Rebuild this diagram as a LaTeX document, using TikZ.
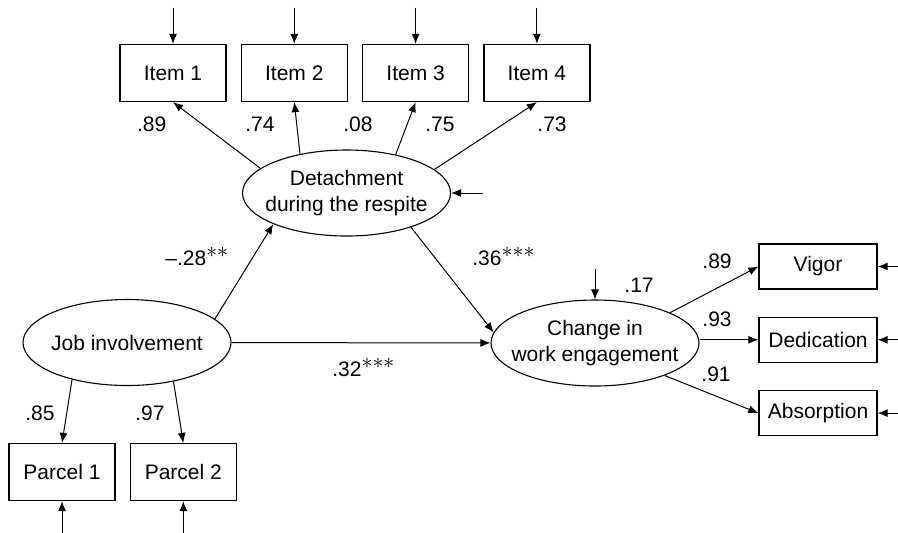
\documentclass[tikz,border=0pt]{standalone}
\usepackage{fontspec}
\setmainfont{Liberation Sans}
\usetikzlibrary{shapes.geometric, arrows.meta, positioning}

\begin{document}
\begin{tikzpicture}[
            x=0.5pt, y=-0.5pt,
            font=\fontsize{10.5}{12.7}\selectfont,
            latent/.style={ellipse, draw, line width=0.55pt, minimum width=104pt, minimum height=43pt, inner sep=0pt},
            item/.style={rectangle, draw, line width=0.65pt, minimum width=53pt, minimum height=28.5pt},
            facet/.style={rectangle, draw, line width=0.65pt, minimum width=59pt, minimum height=22.5pt},
            coef/.style={inner sep=0pt},
            arrow/.style={-{Latex[length=5pt,width=4pt]}, line width=0.5pt}
        ]
            \useasboundingbox (0,0) rectangle (898,532);

            % latent variables
            \node[latent] (det) at (346.5,193) {};
            \node[align=center] (dettext) at (det) {Detachment\\during the respite};
            \node[latent] (job) at (127,342.5) {};
            \node (jobtext) at (job) {Job involvement};
            \node[latent] (chg) at (595,343) {};
            \node[align=center] (chgtext) at (chg) {Change in\\work engagement};

            % indicators
            \node[item] (item1) at (173,73) {Item 1};
            \node[item, right=7pt of item1] (item2) {Item 2};
            \node[item, right=7pt of item2] (item3) {Item 3};
            \node[item, right=7pt of item3] (item4) {Item 4};
            \node[item] (par1) at (62,472) {Parcel 1};
            \node[item, right=7pt of par1] (par2) {Parcel 2};
            \node[facet] (vig) at (818,266.5) {Vigor};
            \node[facet, below=13.5pt of vig] (ded) {Dedication};
            \node[facet, below=13.5pt of ded] (absorp) {Absorption};

            % error terms
            \coordinate[above=18pt of item1] (e1);
            \coordinate[above=18pt of item2] (e2);
            \coordinate[above=18pt of item3] (e3);
            \coordinate[above=18pt of item4] (e4);
            \coordinate[below=16pt of par1] (ep1);
            \coordinate[below=16pt of par2] (ep2);
            \coordinate[right=11pt of vig] (evig);
            \coordinate[right=11pt of ded] (eded);
            \coordinate[right=11pt of absorp] (eabs);
            \coordinate[right=16pt of det] (edet);
            \coordinate[above=15pt of chg] (echg);

            \draw[arrow] (e1) -- (item1);
            \draw[arrow] (e2) -- (item2);
            \draw[arrow] (e3) -- (item3);
            \draw[arrow] (e4) -- (item4);
            \draw[arrow] (ep1) -- (par1);
            \draw[arrow] (ep2) -- (par2);
            \draw[arrow] (evig) -- (vig);
            \draw[arrow] (eded) -- (ded);
            \draw[arrow] (eabs) -- (absorp);
            \draw[arrow] (edet) -- (det);
            \draw[arrow] (echg) -- (chg);

            % loadings
            \draw[arrow] (det.164) -- (item1.south);
            \draw[arrow] (det.140) -- (item2.south);
            \draw[arrow] (det.38) -- (item3.south);
            \draw[arrow] (det.15) -- (item4.south);
            \draw[arrow] (job.214) -- (par1.north);
            \draw[arrow] (job.320) -- (par2.north);
            \draw[arrow] (chg.22) -- (vig.west);
            \draw[arrow] (chg.east |- ded.west) -- (ded.west);
            \draw[arrow] (chg.335) -- (absorp.west);

            % structural paths
            \draw[arrow] (job.15) -- (det.203);
            \draw[arrow] (det.332) -- (chg.174);
            \draw[arrow] (job) -- (chg);

            % coefficients
            \node[coef] (l1) at (151.7,124) {.89};
            \node[coef] (l2) at (260,124) {.74};
            \node[coef] (l3) at (358,124) {.08};
            \node[coef] (l4) at (440,124) {.75};
            \node[coef] (l5) at (552,124) {.73};
            \node[coef] (l6) at (40,413) {.85};
            \node[coef] (l7) at (150,413) {.97};
            \node[coef] (l8) at (639,285) {.17};
            \node[coef] (l9) at (717,261.7) {.89};
            \node[coef] (l10) at (717,319.7) {.93};
            \node[coef] (l11) at (716,374.7) {.91};
            \node[coef, anchor=base west] (bjd) at (165,265) {\textendash.28$^{\textstyle{\ast}{\ast}}$};
            \node[coef, anchor=base west] (bdc) at (472,265) {.36$^{\textstyle{\ast}{\ast}{\ast}}$};
            \node[coef, anchor=base west] (bjc) at (332,376) {.32$^{\textstyle{\ast}{\ast}{\ast}}$};
        \end{tikzpicture}
\end{document}
